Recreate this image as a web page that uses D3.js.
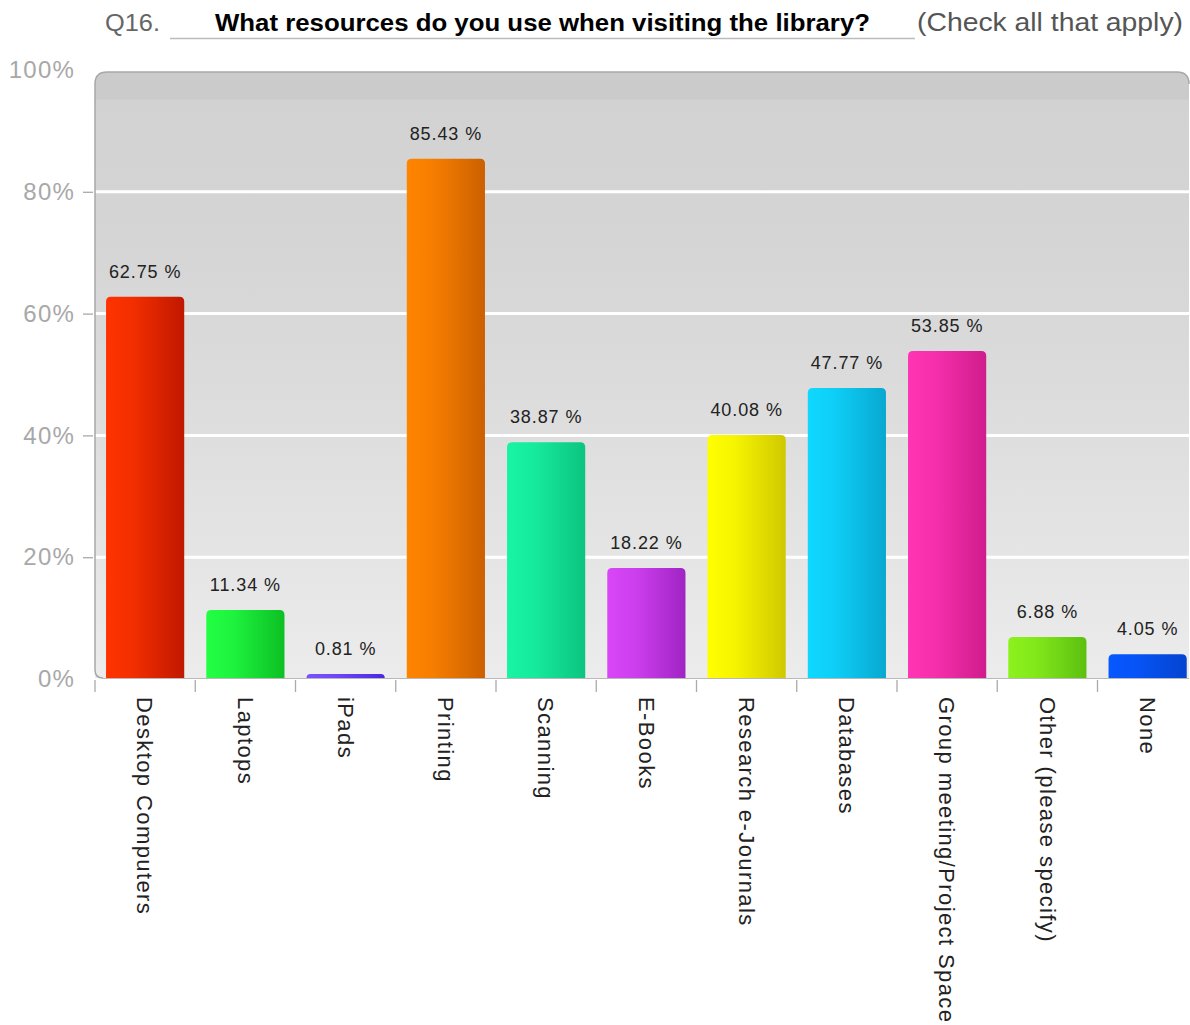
<!DOCTYPE html>
<html>
<head>
<meta charset="utf-8">
<script src="https://cdn.jsdelivr.net/npm/d3@7"></script>
<style>
  html, body { margin: 0; padding: 0; background: #ffffff; }
  svg { display: block; }
  text { font-family: "Liberation Sans", Arial, sans-serif; }
</style>
</head>
<body>
<svg id="chart" width="1190" height="1025"></svg>
<script>
// ---- data ----
const categories = ["Desktop Computers", "Laptops", "iPads", "Printing", "Scanning", "E-Books",
  "Research e-Journals", "Databases", "Group meeting/Project Space", "Other (please specify)", "None"];
const values = [62.75, 11.34, 0.81, 85.43, 38.87, 18.22, 40.08, 47.77, 53.85, 6.88, 4.05];
const yTicks = [0, 20, 40, 60, 80, 100];
const titleNumber = "Q16.";
const titleText = "What resources do you use when visiting the library?";
const titleNote = "(Check all that apply)";

// ---- style ----
const barColors = [
  ["#ff3300", "#c01800"], ["#22ff44", "#0cc024"], ["#7a50ff", "#4a28e0"], ["#ff8400", "#cc6000"],
  ["#18f4a4", "#0cc480"], ["#d846f8", "#a024c4"], ["#ffff00", "#d0c800"], ["#10d8ff", "#08a8d0"],
  ["#ff34b4", "#d01c8c"], ["#8cf21c", "#5cc010"], ["#0858ff", "#0444d0"]
];

(function () {
const svg = d3.select("#chart");
const defs = svg.append("defs");

const pLeft = 95, pTop = 72, pBottom = 678, pRight = 1189;
const step = 100.25;

const x = d3.scaleBand()
  .domain(categories)
  .range([pLeft, pLeft + step * categories.length])
  .paddingInner(0.22)
  .paddingOuter(0.11);

const y = d3.scaleLinear().domain([0, 100]).range([679, 70]);

// background gradient
const bg = defs.append("linearGradient").attr("id", "bg").attr("x1", 0).attr("y1", 0).attr("x2", 0).attr("y2", 1);
[[0, "#cbcbcb"], [0.045, "#cbcbcb"], [0.046, "#d2d2d2"], [0.28, "#d5d5d5"], [0.5, "#dbdbdb"],
 [0.75, "#e3e3e3"], [1, "#ececec"]].forEach(([o, c]) => bg.append("stop").attr("offset", o).attr("stop-color", c));

const r = 12;
svg.append("path")
  .attr("d", `M${pLeft},${pBottom} L${pLeft},${pTop + r} Q${pLeft},${pTop} ${pLeft + r},${pTop} L${pRight - r},${pTop} Q${pRight},${pTop} ${pRight},${pTop + r} L${pRight},${pBottom} Z`)
  .attr("fill", "url(#bg)");

// gridlines
svg.append("g").selectAll("line")
  .data(yTicks.filter(t => t > 0 && t < 100))
  .join("line")
  .attr("x1", pLeft).attr("x2", pRight)
  .attr("y1", d => y(d)).attr("y2", d => y(d))
  .attr("stroke", "#ffffff").attr("stroke-width", 3);

// frame (left and top, rounded)
svg.append("path")
  .attr("d", `M${pLeft + 8},${pBottom} Q${pLeft},${pBottom} ${pLeft},${pBottom - 8} L${pLeft},${pTop + r} Q${pLeft},${pTop} ${pLeft + r},${pTop} L${pRight - r},${pTop} Q${pRight},${pTop} ${pRight},${pTop + r}`)
  .attr("fill", "none").attr("stroke", "#a8a8a8").attr("stroke-width", 1.5);
svg.append("line").attr("x1", pLeft + 8).attr("x2", pRight).attr("y1", pBottom + 0.5).attr("y2", pBottom + 0.5)
  .attr("stroke", "#b8b8b8").attr("stroke-width", 1.2);

// y axis
const yAxis = d3.axisLeft(y).tickValues(yTicks).tickFormat(d => d + "%").tickSize(10).tickPadding(8);
const yg = svg.append("g").attr("transform", `translate(${pLeft - 2},0)`).call(yAxis);
yg.select(".domain").remove();
yg.selectAll(".tick line").attr("stroke", "#aaaaaa").attr("stroke-width", 1.3);
yg.selectAll(".tick").filter(d => d === 100 || d === 0).select("line").remove();
yg.selectAll(".tick text").attr("fill", "#a8a8a8").attr("font-size", 24).attr("letter-spacing", 1.2)
  .attr("font-family", "'Liberation Sans', Arial, sans-serif");

// x ticks at band boundaries
const boundaries = d3.range(categories.length).map(i => pLeft + i * step);
svg.append("g").selectAll("line")
  .data(boundaries)
  .join("line")
  .attr("x1", d => d).attr("x2", d => d)
  .attr("y1", 680).attr("y2", 692)
  .attr("stroke", "#aaaaaa").attr("stroke-width", 1.3);

// bar gradients
barColors.forEach((c, i) => {
  const g = defs.append("linearGradient").attr("id", "bar" + i).attr("x1", 0).attr("x2", 1).attr("y1", 0).attr("y2", 0);
  g.append("stop").attr("offset", 0).attr("stop-color", c[0]);
  g.append("stop").attr("offset", 0.35).attr("stop-color", d3.interpolateRgb(c[0], c[1])(0.2));
  g.append("stop").attr("offset", 1).attr("stop-color", c[1]);
});

function roundTopRect(x0, y0, w, h, rr) {
  rr = Math.min(rr, h, w / 2);
  return `M${x0},${y0 + h} L${x0},${y0 + rr} Q${x0},${y0} ${x0 + rr},${y0} L${x0 + w - rr},${y0} Q${x0 + w},${y0} ${x0 + w},${y0 + rr} L${x0 + w},${y0 + h} Z`;
}

const data = categories.map((c, i) => ({ c, v: values[i], i }));

svg.append("g").selectAll("path")
  .data(data)
  .join("path")
  .attr("d", d => roundTopRect(x(d.c), y(d.v), x.bandwidth(), y(0) - 1 - y(d.v), 5))
  .attr("fill", d => `url(#bar${d.i})`);

// value labels
svg.append("g").selectAll("text")
  .data(data)
  .join("text")
  .attr("x", d => x(d.c) + x.bandwidth() / 2)
  .attr("y", d => y(d.v) - 19)
  .attr("text-anchor", "middle")
  .attr("font-size", 18)
  .attr("letter-spacing", 0.9)
  .attr("fill", "#222222")
  .text(d => d.v.toFixed(2) + " %");

// category labels (rotated)
svg.append("g").selectAll("text")
  .data(data)
  .join("text")
  .attr("transform", d => `translate(${x(d.c) + x.bandwidth() / 2},697) rotate(90)`)
  .attr("dy", "0.35em")
  .attr("font-size", 22)
  .attr("letter-spacing", 1.4)
  .attr("fill", "#222222")
  .text(d => d.c);

// title
svg.append("text").attr("x", 105).attr("y", 31).attr("font-size", 24).attr("fill", "#666666")
  .attr("textLength", 55).attr("lengthAdjust", "spacingAndGlyphs").text(titleNumber);
svg.append("line").attr("x1", 170).attr("x2", 915).attr("y1", 38.5).attr("y2", 38.5)
  .attr("stroke", "#bbbbbb").attr("stroke-width", 1.5);
svg.append("text").attr("x", 215).attr("y", 31).attr("font-size", 23).attr("font-weight", "bold")
  .attr("fill", "#000000").attr("textLength", 655).attr("lengthAdjust", "spacingAndGlyphs").text(titleText);
svg.append("text").attr("x", 917).attr("y", 31).attr("font-size", 25).attr("fill", "#555555")
  .attr("textLength", 266).attr("lengthAdjust", "spacingAndGlyphs").text(titleNote);
})();
</script>
</body>
</html>
